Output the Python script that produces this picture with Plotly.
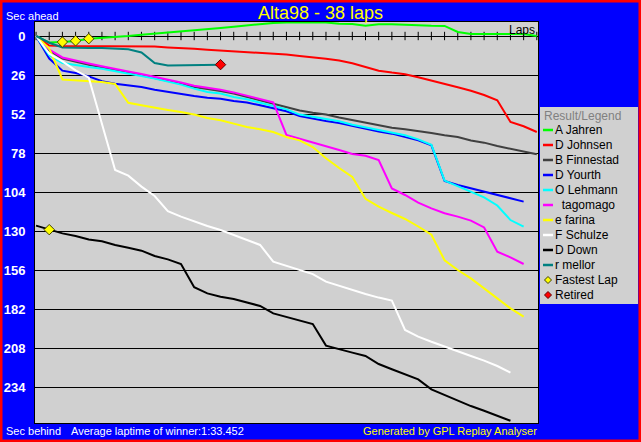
import plotly.graph_objects as go

# ---------------- data ----------------
laps = list(range(39))

drivers = ["A Jahren", "D Johnsen", "B Finnestad", "D Yourth", "O Lehmann",
           "\u00a0\u00a0tagomago", "e farina", "F Schulze", "D Down", "r mellor"]
colors = ["#00FF00", "#FF0000", "#404040", "#0000FF", "#00FFFF",
          "#FF00FF", "#FFFF00", "#FFFFFF", "#000000", "#008080"]

jahren = [0, 4.4, 4.0, 3.3, 1.8, 1.3, 0.7, 0.0, -0.9, -1.6, -2.0, -2.7, -3.6, -4.4, -5.3,
          -6.2, -7.1, -7.8, -8.7, -9.0, -9.0, -9.0, -9.0, -8.2, -8.0, -6.9, -7.8, -7.8, -7.3,
          -6.8, -6.8, -6.7, -2.7, -1.4, -1.3, -1.3, -1.3, -1.3, 0.0]
johnsen = [0, 6.3, 6.7, 6.7, 6.7, 6.7, 6.7, 6.7, 6.8, 7.0, 7.6, 7.8, 8.5, 9.1, 9.6, 10.2,
           10.7, 10.9, 11.6, 12.4, 13.3, 14.0, 15.1, 16.4, 18.2, 20.7, 23.1, 24.4, 25.5, 27.5,
           29.6, 32.0, 34.2, 36.5, 39.3, 42.9, 57.3, 60.2, 64.0]
finnestad = [0, 9.6, 15.1, 17.3, 19.1, 20.9, 22.9, 24.4, 26.2, 28.0, 29.6, 31.8, 34.0, 35.1,
             36.7, 38.4, 40.7, 42.9, 45.1, 47.3, 49.6, 51.1, 52.4, 54.4, 56.2, 57.8, 59.6, 61.1,
             62.2, 63.3, 64.7, 66.2, 67.3, 69.6, 71.1, 73.3, 75.1, 76.7, 78.9]
yourth = [0, 15.0, 23.1, 24.7, 26.9, 30.2, 31.8, 32.9, 34.0, 35.8, 37.3, 38.4, 40.0, 41.1, 41.8,
          43.3, 44.4, 46.2, 48.0, 50.2, 53.3, 55.1, 56.7, 58.0, 60.0, 61.8, 63.6, 65.1, 67.3,
          69.6, 72.9, 96.7, 99.3, 101.6, 103.8, 106.0, 108.4, 110.4]
lehmann = [0, 12.9, 18.0, 19.6, 20.7, 21.8, 23.6, 25.1, 26.7, 28.4, 30.2, 32.4, 35.1, 37.3,
           38.4, 40.7, 42.2, 44.4, 46.2, 48.9, 52.4, 54.0, 55.6, 56.9, 59.1, 60.9, 62.7, 64.2,
           66.2, 68.9, 72.5, 96.4, 100.0, 103.8, 107.6, 113.0, 122.7, 127.1]
tagomago = [0, 9.0, 14.3, 16.5, 18.3, 20.1, 22.1, 23.6, 25.4, 27.2, 28.8, 31.0, 33.2, 34.3,
            35.9, 37.6, 39.9, 42.1, 44.3, 66.0, 68.4, 70.7, 73.3, 76.0, 78.7, 79.8, 82.7,
            101.6, 106.0, 111.1, 114.9, 118.2, 120.4, 123.1, 127.6, 143.8, 147.6, 152.0]
farina = [0, 8.4, 29.0, 29.5, 30.0, 30.7, 32.0, 44.5, 46.2, 48.0, 49.3, 50.7, 52.4, 54.7, 56.2,
          58.4, 60.7, 62.2, 64.0, 67.3, 69.6, 74.0, 81.5, 88.0, 94.0, 108.5, 113.8, 118.0,
          122.0, 127.0, 132.5, 149.5, 156.0, 161.6, 168.2, 174.9, 181.6, 187.1]
schulze = [0, 11.8, 16.9, 22.9, 27.8, 58.0, 89.3, 93.1, 100.4, 106.7, 116.7, 120.4, 123.8,
           126.7, 129.3, 132.7, 136.0, 139.3, 150.4, 153.1, 156.0, 158.7, 163.8, 166.7, 169.3,
           172.0, 174.4, 176.4, 196.0, 200.4, 203.8, 207.1, 210.0, 213.3, 216.4, 220.0, 224.4]
down = [126.4, 129.1, 131.6, 133.3, 135.6, 136.9, 139.3, 141.1, 143.1, 146.7, 148.9, 152.0,
        167.5, 171.6, 173.8, 175.3, 177.6, 180.0, 184.9, 187.1, 189.8, 192.0, 206.4, 208.9,
        211.1, 213.3, 218.7, 222.2, 225.3, 228.9, 235.6, 239.3, 243.1, 246.7, 249.8, 253.3, 256.5]
mellor = [0, 4.5, 7.6, 8.0, 8.0, 8.0, 8.3, 8.9, 11.0, 18.0, 19.6, 19.6, 19.6, 19.3, 19.1]

series = [jahren, johnsen, finnestad, yourth, lehmann, tagomago, farina, schulze, down, mellor]

fastest_laps = [2, 3, 4, 1]
fastest_vals = [4.0, 3.2, 1.8, 129.1]
retired_laps = [14]
retired_vals = [19.1]

ytick_vals = [0, 26, 52, 78, 104, 130, 156, 182, 208, 234]

title = "Alta98 - 38 laps"
avg_text = "Average laptime of winner:1:33.452"
gen_text = "Generated by GPL Replay Analyser"

# ---------------- layout geometry ----------------
FIG_W, FIG_H = 641, 442
L, R, T, B = 35, 538, 22, 423
W, H = R - L, B - T


def px(x):
    return (x - L) / W


def py(y):
    return (B - y) / H


FONT = "Liberation Sans, Arial, sans-serif"
GRAY = "#D0D0D0"

fig = go.Figure()

# x-axis tick marks on the zero line
fig.add_trace(go.Scatter(
    x=laps, y=[0] * len(laps), mode="markers",
    marker=dict(symbol="line-ns", size=6, line=dict(color="black", width=1)),
    showlegend=False, hoverinfo="skip"))

for name, col, vals in zip(drivers, colors, series):
    fig.add_trace(go.Scatter(
        x=laps[:len(vals)], y=vals, mode="lines", name=name,
        line=dict(color=col, width=2), showlegend=False))

fig.add_trace(go.Scatter(
    x=fastest_laps, y=fastest_vals, mode="markers", name="Fastest Lap",
    marker=dict(symbol="diamond", size=8, color="#FFFF00", line=dict(color="#404000", width=1)),
    showlegend=False))
fig.add_trace(go.Scatter(
    x=retired_laps, y=retired_vals, mode="markers", name="Retired",
    marker=dict(symbol="diamond", size=8, color="#FF0000", line=dict(color="#600000", width=1)),
    showlegend=False))

shapes = []
annotations = []

# outer red frame
shapes.append(dict(type="rect", xref="paper", yref="paper",
                   x0=px(0), x1=px(FIG_W), y0=py(FIG_H), y1=py(0),
                   line=dict(color="#FF0000", width=5), fillcolor="rgba(0,0,0,0)", layer="above"))

# legend box
shapes.append(dict(type="rect", xref="paper", yref="paper",
                   x0=px(540), x1=px(638), y0=py(304), y1=py(107),
                   line=dict(width=0), fillcolor=GRAY, layer="below"))
annotations.append(dict(text="Result/Legend", xref="paper", yref="paper",
                        x=px(542), y=py(116), xanchor="left", yanchor="middle",
                        showarrow=False, font=dict(family=FONT, size=12, color="#808080")))
ly = 130
for name, col in zip(drivers, colors):
    shapes.append(dict(type="line", xref="paper", yref="paper",
                       x0=px(543), x1=px(553), y0=py(ly), y1=py(ly),
                       line=dict(color=col, width=2.5)))
    annotations.append(dict(text=name, xref="paper", yref="paper",
                            x=px(553), y=py(ly), xanchor="left", yanchor="middle",
                            showarrow=False, font=dict(family=FONT, size=12, color="black")))
    ly += 15
for label, fill, edge in [("Fastest Lap", "#FFFF00", "#404000"), ("Retired", "#FF0000", "#600000")]:
    cx, cy, s = 548, ly, 3.5
    path = "M {} {} L {} {} L {} {} L {} {} Z".format(
        px(cx - s), py(cy), px(cx), py(cy - s), px(cx + s), py(cy), px(cx), py(cy + s))
    shapes.append(dict(type="path", xref="paper", yref="paper", path=path,
                       fillcolor=fill, line=dict(color=edge, width=1)))
    annotations.append(dict(text=label, xref="paper", yref="paper",
                            x=px(553), y=py(ly), xanchor="left", yanchor="middle",
                            showarrow=False, font=dict(family=FONT, size=12, color="black")))
    ly += 15

# texts
annotations += [
    dict(text=title, xref="paper", yref="paper", x=px(320), y=py(13),
         xanchor="center", yanchor="middle", showarrow=False,
         font=dict(family=FONT, size=18, color="#FFFF00")),
    dict(text="Sec ahead", xref="paper", yref="paper", x=px(4), y=py(16),
         xanchor="left", yanchor="middle", showarrow=False,
         font=dict(family=FONT, size=11, color="white")),
    dict(text="Sec behind", xref="paper", yref="paper", x=px(4), y=py(431),
         xanchor="left", yanchor="middle", showarrow=False,
         font=dict(family=FONT, size=11, color="white")),
    dict(text=avg_text, xref="paper", yref="paper", x=px(69), y=py(431),
         xanchor="left", yanchor="middle", showarrow=False,
         font=dict(family=FONT, size=11, color="white")),
    dict(text=gen_text, xref="paper", yref="paper", x=px(539), y=py(431),
         xanchor="right", yanchor="middle", showarrow=False,
         font=dict(family=FONT, size=11, color="#FFFF00")),
    dict(text="Laps", xref="paper", yref="paper", x=px(537), y=py(30),
         xanchor="right", yanchor="middle", showarrow=False,
         font=dict(family=FONT, size=12, color="black")),
]

fig.update_layout(
    width=FIG_W, height=FIG_H,
    margin=dict(l=L, r=FIG_W - R, t=T, b=FIG_H - B, pad=0, autoexpand=False),
    paper_bgcolor="#0000FF", plot_bgcolor=GRAY,
    showlegend=False,
    shapes=shapes, annotations=annotations,
    xaxis=dict(range=[-0.08, 38.09], showgrid=False, zeroline=False, showticklabels=False,
               ticks="", showline=True, mirror=True, linecolor="black", linewidth=1,
               automargin=False),
    yaxis=dict(range=[258, -9.33], tickvals=ytick_vals, ticktext=[str(v) for v in ytick_vals],
               showgrid=True, gridcolor="black", gridwidth=1, zeroline=False,
               ticks="", ticklabelstandoff=6, automargin=False,
               tickfont=dict(family=FONT, size=13, color="white", weight="bold"),
               showline=True, mirror=True, linecolor="black", linewidth=1),
    font=dict(family=FONT),
)

fig.write_html("out.html", config={"displayModeBar": False},
               post_script="document.body.style.margin='0px';document.body.style.overflow='hidden';")
